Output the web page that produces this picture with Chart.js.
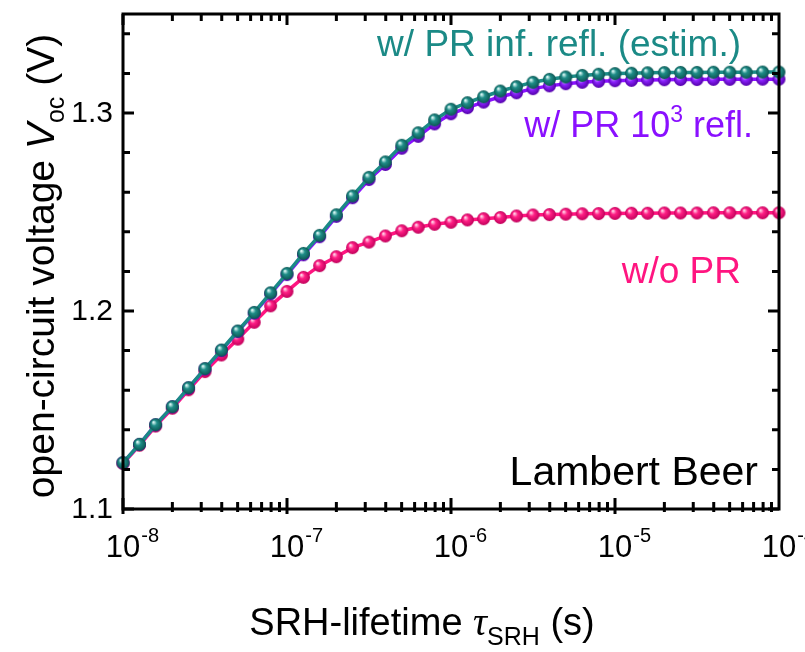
<!DOCTYPE html>
<html>
<head>
<meta charset="utf-8">
<script src="https://cdn.jsdelivr.net/npm/chart.js@4"></script>
<style>
  html, body { margin: 0; padding: 0; background: #fff; }
  #wrap { width: 805px; height: 652px; position: relative; }
</style>
</head>
<body>
<div id="wrap"><canvas id="chart" width="805" height="652"></canvas></div>
<script>
// SRH lifetime (s), 10 points per decade
const tau = [
  1.00e-8, 1.26e-8, 1.58e-8, 2.00e-8, 2.51e-8, 3.16e-8, 3.98e-8, 5.01e-8, 6.31e-8, 7.94e-8,
  1.00e-7, 1.26e-7, 1.58e-7, 2.00e-7, 2.51e-7, 3.16e-7, 3.98e-7, 5.01e-7, 6.31e-7, 7.94e-7,
  1.00e-6, 1.26e-6, 1.58e-6, 2.00e-6, 2.51e-6, 3.16e-6, 3.98e-6, 5.01e-6, 6.31e-6, 7.94e-6,
  1.00e-5, 1.26e-5, 1.58e-5, 2.00e-5, 2.51e-5, 3.16e-5, 3.98e-5, 5.01e-5, 6.31e-5, 7.94e-5,
  1.00e-4
];

// Voc (V), w/ PR infinite reflections (estimated)
const vocInf = [
  1.1234, 1.1327, 1.1426, 1.1517, 1.1613, 1.1709, 1.1803, 1.1899, 1.1993, 1.2092,
  1.2190, 1.2291, 1.2382, 1.2486, 1.2581, 1.2675, 1.2753, 1.2837, 1.2900, 1.2965,
  1.3019, 1.3052, 1.3082, 1.3111, 1.3133, 1.3155, 1.3170, 1.3182, 1.3190, 1.3196,
  1.3199, 1.3201, 1.3203, 1.3204, 1.3205, 1.3205, 1.3206, 1.3206, 1.3206, 1.3207,
  1.3207
];

// Voc (V), w/ PR 10^3 reflections
const voc1e3 = [
  1.1233, 1.1326, 1.1425, 1.1516, 1.1611, 1.1707, 1.1800, 1.1896, 1.1989, 1.2087,
  1.2184, 1.2284, 1.2375, 1.2478, 1.2572, 1.2664, 1.2740, 1.2822, 1.2882, 1.2945,
  1.2996, 1.3027, 1.3055, 1.3082, 1.3102, 1.3123, 1.3137, 1.3148, 1.3155, 1.3160,
  1.3163, 1.3165, 1.3167, 1.3168, 1.3169, 1.3169, 1.3170, 1.3170, 1.3170, 1.3171,
  1.3171
];

// Voc (V), w/o PR
const vocNoPR = [
  1.1230, 1.1322, 1.1419, 1.1509, 1.1602, 1.1694, 1.1778, 1.1858, 1.1943, 1.2026,
  1.2099, 1.2170, 1.2229, 1.2274, 1.2320, 1.2348, 1.2379, 1.2405, 1.2423, 1.2438,
  1.2448, 1.2460, 1.2466, 1.2472, 1.2480, 1.2485, 1.2487, 1.2489, 1.2491, 1.2492,
  1.2493, 1.2494, 1.2494, 1.2495, 1.2495, 1.2495, 1.2496, 1.2496, 1.2496, 1.2496,
  1.2496
];

// tick labels
const xTickValues = [1e-8, 1e-7, 1e-6, 1e-5, 1e-4];
const xTickExps = ['-8', '-7', '-6', '-5', '-4'];
const yTickValues = [1.1, 1.2, 1.3];
const yTickLabels = ['1.1', '1.2', '1.3'];

const TEAL = '#1b8a86';
const PURPLE = '#8a10ff';
const PINK = '#ff1580';
const FONT = '"Liberation Sans", Arial, sans-serif';

// little shaded ball used as marker
function sphere(base, dark, light, r) {
  const c = document.createElement('canvas');
  const s = Math.ceil(2 * r + 2);
  c.width = c.height = s;
  const g2 = c.getContext('2d');
  const cx = s / 2, cy = s / 2;
  const grad = g2.createRadialGradient(cx - r * 0.35, cy - r * 0.4, r * 0.05, cx, cy, r);
  grad.addColorStop(0, light);
  grad.addColorStop(0.4, base);
  grad.addColorStop(1, dark);
  g2.fillStyle = grad;
  g2.beginPath();
  g2.arc(cx, cy, r, 0, Math.PI * 2);
  g2.fill();
  return c;
}

const ballTeal = sphere('#1f8d88', '#0c5552', '#e8fffd', 6.5);
const ballPurple = sphere('#8c22ff', '#5200a8', '#e6ccff', 6.5);
const ballPink = sphere('#ff1f85', '#c0005a', '#ffe0ee', 6.5);

function pts(ys) {
  return tau.map((t, i) => ({ x: t, y: ys[i] }));
}

// draw a run of text pieces: [text, font, dy]
function drawRuns(ctx, runs, x, y, align) {
  let total = 0;
  runs.forEach(r => { ctx.font = r[1]; total += ctx.measureText(r[0]).width; });
  let cx = align === 'right' ? x - total : align === 'center' ? x - total / 2 : x;
  ctx.textAlign = 'left';
  runs.forEach(r => {
    ctx.font = r[1];
    ctx.fillText(r[0], cx, y + (r[2] || 0));
    cx += ctx.measureText(r[0]).width;
  });
}

const framePlugin = {
  id: 'frame',
  afterDraw(chart) {
    const ctx = chart.ctx;
    const a = chart.chartArea;
    const xs = chart.scales.x, ys = chart.scales.y;
    ctx.save();
    ctx.strokeStyle = '#000';
    ctx.fillStyle = '#000';
    ctx.lineWidth = 3;
    ctx.strokeRect(a.left, a.top, a.right - a.left, a.bottom - a.top);

    // x ticks (major decades, minor 2..9)
    ctx.beginPath();
    for (let d = -8; d < -4; d++) {
      for (let m = 1; m <= 9; m++) {
        const v = m * Math.pow(10, d);
        const px = xs.getPixelForValue(v);
        const inLen = m === 1 ? 11 : 7;
        const outLen = m === 1 ? 5 : 3;
        ctx.moveTo(px, a.bottom + outLen); ctx.lineTo(px, a.bottom - inLen);
        ctx.moveTo(px, a.top); ctx.lineTo(px, a.top + inLen);
      }
    }
    // y ticks every 0.02, major every 0.1
    for (let k = 0; k <= 12; k++) {
      const v = 1.1 + k * 0.02;
      if (v > 1.351) break;
      const py = ys.getPixelForValue(v);
      const major = Math.abs(((v - 1.1) / 0.1) - Math.round((v - 1.1) / 0.1)) < 1e-6;
      const len = major ? 11 : 7;
      ctx.moveTo(a.left, py); ctx.lineTo(a.left + len, py);
      ctx.moveTo(a.right, py); ctx.lineTo(a.right - len, py);
    }
    ctx.stroke();

    // tick labels
    ctx.textBaseline = 'alphabetic';
    xTickValues.forEach((v, i) => {
      const px = xs.getPixelForValue(v);
      ctx.font = '31px ' + FONT;
      const w10 = ctx.measureText('10').width;
      ctx.textAlign = 'left';
      ctx.fillText('10', px - w10 / 2, 557);
      ctx.font = '20px ' + FONT;
      ctx.fillText(xTickExps[i], px + w10 / 2 + 1, 542);
    });
    ctx.font = '30px ' + FONT;
    ctx.textAlign = 'right';
    ctx.textBaseline = 'middle';
    yTickValues.forEach((v, i) => {
      ctx.fillText(yTickLabels[i], a.left - 10, ys.getPixelForValue(v) + 1);
    });

    // axis titles
    ctx.textBaseline = 'alphabetic';
    drawRuns(ctx, [
      ['SRH-lifetime ', '38px ' + FONT],
      ['\u03c4', 'italic 39px "Liberation Serif", serif'],
      ['SRH', '25px ' + FONT, 10],
      [' (s)', '38px ' + FONT]
    ], 422, 635, 'center');

    ctx.save();
    ctx.translate(54, 266);
    ctx.rotate(-Math.PI / 2);
    drawRuns(ctx, [
      ['open-circuit voltage ', '39px ' + FONT],
      ['V', 'italic 39px ' + FONT],
      ['oc', '25px ' + FONT, 10],
      [' (V)', '39px ' + FONT]
    ], 0, 0, 'center');
    ctx.restore();

    // series labels
    ctx.fillStyle = TEAL;
    drawRuns(ctx, [['w/ PR inf. refl. (estim.)', '37px ' + FONT]], 741, 56, 'right');
    ctx.fillStyle = PURPLE;
    drawRuns(ctx, [
      ['w/ PR 10', '36px ' + FONT],
      ['3', '23px ' + FONT, -15],
      [' refl.', '36px ' + FONT]
    ], 753, 137, 'right');
    ctx.fillStyle = PINK;
    drawRuns(ctx, [['w/o PR', '37px ' + FONT]], 741, 283, 'right');
    ctx.fillStyle = '#000';
    drawRuns(ctx, [['Lambert Beer', '41px ' + FONT]], 758, 485, 'right');
    ctx.restore();
  }
};

new Chart(document.getElementById('chart'), {
  type: 'line',
  data: {
    datasets: [
      {
        label: 'w/ PR inf. refl. (estim.)',
        data: pts(vocInf),
        borderColor: TEAL,
        borderWidth: 3.5,
        pointStyle: ballTeal,
        pointRadius: 6.5
      },
      {
        label: 'w/ PR 10^3 refl.',
        data: pts(voc1e3),
        borderColor: PURPLE,
        borderWidth: 3.5,
        pointStyle: ballPurple,
        pointRadius: 6.5
      },
      {
        label: 'w/o PR',
        data: pts(vocNoPR),
        borderColor: PINK,
        borderWidth: 3.5,
        pointStyle: ballPink,
        pointRadius: 6.5
      }
    ]
  },
  options: {
    responsive: false,
    animation: false,
    devicePixelRatio: 1,
    clip: false,
    layout: { padding: { left: 123, right: 26, top: 14, bottom: 143 } },
    plugins: { legend: { display: false }, tooltip: { enabled: false } },
    scales: {
      x: { type: 'logarithmic', min: 1e-8, max: 1e-4, display: false },
      y: { type: 'linear', min: 1.1, max: 1.35, display: false }
    }
  },
  plugins: [framePlugin]
});
</script>
</body>
</html>
